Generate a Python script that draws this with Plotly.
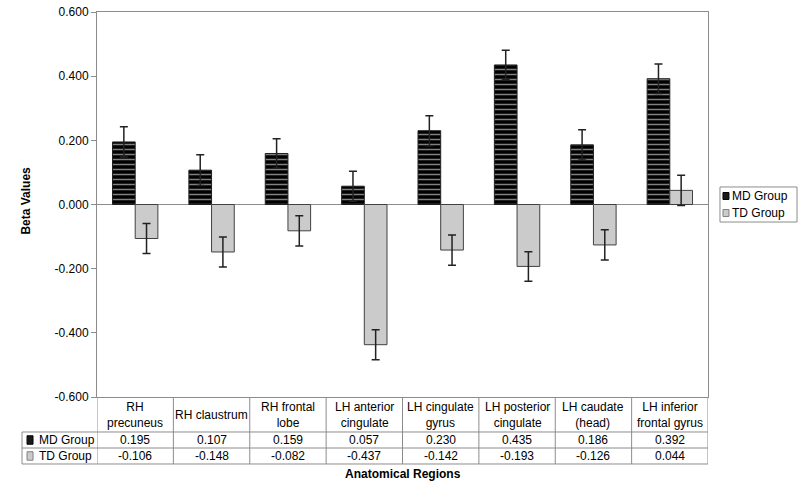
import plotly.graph_objects as go

regions = ['RH<br>precuneus', 'RH claustrum', 'RH frontal<br>lobe', 'LH anterior<br>cingulate',
           'LH cingulate<br>gyrus', 'LH posterior<br>cingulate', 'LH caudate<br>(head)',
           'LH inferior<br>frontal gyrus']
md_vals = [0.195, 0.107, 0.159, 0.057, 0.230, 0.435, 0.186, 0.392]
td_vals = [-0.106, -0.148, -0.082, -0.437, -0.142, -0.193, -0.126, 0.044]
md_err = [0.047, 0.048, 0.046, 0.047, 0.047, 0.046, 0.047, 0.046]
td_err = [0.047, 0.047, 0.047, 0.047, 0.047, 0.046, 0.047, 0.047]
y_ticks = [0.6, 0.4, 0.2, 0.0, -0.2, -0.4, -0.6]

FONT = 'Liberation Sans, Arial, sans-serif'
LINE = '#8c8c8c'
MD_FILL = '#1a1a1a'
TD_FILL = '#cbcbcb'
n = len(regions)
xs = list(range(n))

fig = go.Figure()
fig.add_trace(go.Bar(
    x=xs, y=md_vals, name='MD Group',
    marker=dict(color='black', line=dict(color='#202020', width=1),
                pattern=dict(shape='-', fgcolor='white', bgcolor='black', size=5, solidity=0.3)),
    error_y=dict(type='data', array=md_err, color='#222222', thickness=1.5, width=4)))
fig.add_trace(go.Bar(
    x=xs, y=td_vals, name='TD Group',
    marker=dict(color=TD_FILL, line=dict(color='#404040', width=1)),
    error_y=dict(type='data', array=td_err, color='#222222', thickness=1.5, width=4)))

# data table rows (paper y coords below plot)
row_hdr, row_md, row_td = -0.0455, -0.1117, -0.1532
y_hdr_bot, y_md_bot, y_td_bot = -0.0909, -0.1325, -0.1740
x_left = -0.1227

ann = []
for i in range(n):
    ann.append(dict(x=i, y=row_hdr, xref='x', yref='paper', text=regions[i], showarrow=False,
                    font=dict(size=12, color='black'), yanchor='middle'))
    ann.append(dict(x=i, y=row_md, xref='x', yref='paper', text=f'{md_vals[i]:.3f}', showarrow=False,
                    font=dict(size=12, color='black'), yanchor='middle'))
    ann.append(dict(x=i, y=row_td, xref='x', yref='paper', text=f'{td_vals[i]:.3f}', showarrow=False,
                    font=dict(size=12, color='black'), yanchor='middle'))
for name, yy in [('MD Group', row_md), ('TD Group', row_td)]:
    ann.append(dict(x=-0.099, y=yy, xref='paper', yref='paper', text=name, showarrow=False,
                    font=dict(size=12, color='black'), xanchor='left', yanchor='middle'))
ann.append(dict(x=0.5, y=-0.2, xref='paper', yref='paper', text='<b>Anatomical Regions</b>',
                showarrow=False, font=dict(size=12, color='black'), yanchor='middle'))
ann.append(dict(x=-0.131, y=0.51, xref='paper', yref='paper', text='<b>Beta Values</b>',
                showarrow=False, textangle=-90, font=dict(size=12, color='black')))

shapes = []
for yy in [y_hdr_bot, y_md_bot, y_td_bot]:
    shapes.append(dict(type='line', xref='paper', yref='paper', x0=x_left, x1=1, y0=yy, y1=yy,
                       line=dict(color=LINE, width=1)))
shapes.append(dict(type='line', xref='paper', yref='paper', x0=x_left, x1=x_left, y0=y_hdr_bot, y1=y_td_bot,
                   line=dict(color=LINE, width=1)))
for i in range(n + 1):
    shapes.append(dict(type='line', xref='x', yref='paper', x0=i - 0.5, x1=i - 0.5, y0=0, y1=y_td_bot,
                       line=dict(color=LINE, width=1)))
# legend keys inside table
for yy, fc, lc in [(row_md, MD_FILL, 'black'), (row_td, TD_FILL, '#808080')]:
    shapes.append(dict(type='rect', xref='paper', yref='paper', x0=-0.1145, x1=-0.1047,
                       y0=yy - 0.011, y1=yy + 0.011, fillcolor=fc, line=dict(color=lc, width=1)))

# legend box on the right
lg_x0, lg_x1, lg_y0, lg_y1 = 1.0196, 1.1457, 0.4545, 0.5455
shapes.append(dict(type='rect', xref='paper', yref='paper', x0=lg_x0, x1=lg_x1, y0=lg_y0, y1=lg_y1,
                   fillcolor='white', line=dict(color=LINE, width=1)))
for name, yy, fc, lc in [('MD Group', 0.5221, MD_FILL, 'black'), ('TD Group', 0.4779, TD_FILL, '#808080')]:
    shapes.append(dict(type='rect', xref='paper', yref='paper', x0=1.0245, x1=1.0343,
                       y0=yy - 0.009, y1=yy + 0.009, fillcolor=fc, line=dict(color=lc, width=1)))
    ann.append(dict(x=1.0360, y=yy, xref='paper', yref='paper', text=name, showarrow=False,
                    font=dict(size=12, color='black'), xanchor='left', yanchor='middle'))

fig.update_layout(
    width=800, height=485,
    margin=dict(l=97, r=92, t=12, b=88, autoexpand=False),
    paper_bgcolor='white', plot_bgcolor='white',
    font=dict(family=FONT, size=12, color='black'),
    barmode='group', bargap=0.406, bargroupgap=0,
    showlegend=False,
    annotations=ann, shapes=shapes,
)
fig.update_xaxes(range=[-0.5, n - 0.5], showticklabels=False, ticks='', showline=True, mirror=True,
                 linecolor=LINE, linewidth=1, showgrid=False, zeroline=False, automargin=False)
fig.update_yaxes(range=[-0.6, 0.6], tickvals=y_ticks, ticktext=[f'{v:.3f}' for v in y_ticks],
                 ticks='outside', ticklen=5, tickcolor=LINE, showline=True, mirror=True,
                 linecolor=LINE, linewidth=1, showgrid=False, zeroline=True, zerolinecolor=LINE,
                 zerolinewidth=1, tickfont=dict(size=12), automargin=False)

# drop the default 8px page margin so the figure sits at the window's corner
fig.write_html('out.html', config={'displayModeBar': False},
               post_script="document.body.style.margin='0';")
